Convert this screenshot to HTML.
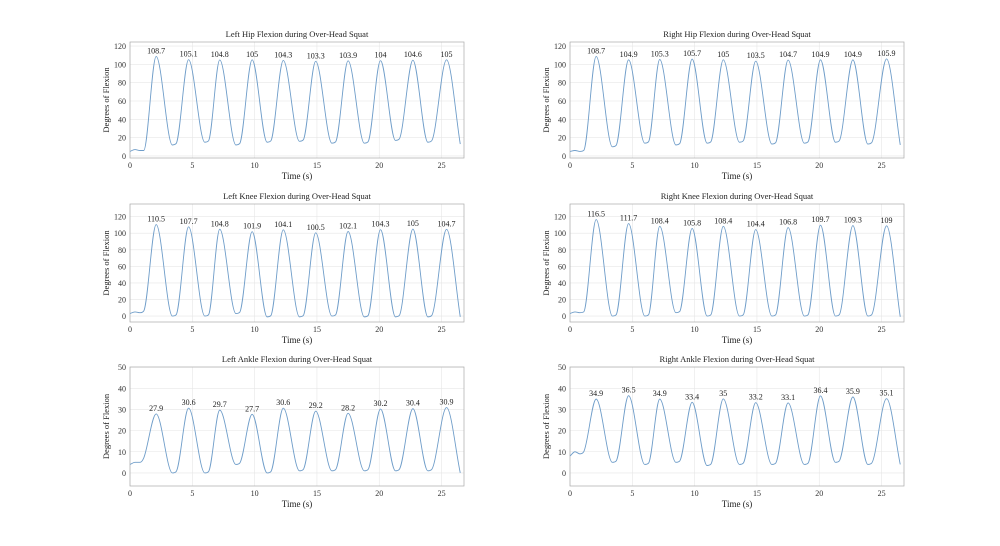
<!DOCTYPE html>
<html><head><meta charset="utf-8">
<style>
body{margin:0;background:#fff;}
svg{display:block;font-family:"Liberation Serif","DejaVu Serif",serif;}
</style></head>
<body>
<svg id="fig" width="1000" height="546" viewBox="0 0 1000 546"></svg>
<script>
// ---- shared time keypoints (s) ----
const peakT = [2.1,4.7,7.2,9.8,12.3,14.9,17.5,20.1,22.7,25.4];
const troughStartT = [3.4,6.0,8.5,11.0,13.6,16.2,18.8,21.3,23.9];
const troughEndT = [3.7,6.3,8.8,11.3,13.9,16.5,19.1,21.6,24.2];
const startT = [0,0.4,0.8,1.1];
const endT = 26.5;
const xTicks = [0,5,10,15,20,25];

// ---- Left hip ----
const lhipStart = [5,7,6,6];
const lhipPeaks = [108.7,105.1,104.8,105,104.3,103.3,103.9,104,104.6,105];
const lhipTroughs = [12,15,12,15,16,14,14,17,15];
const lhipEnd = 13;
// ---- Right hip ----
const rhipStart = [5,6,5,6];
const rhipPeaks = [108.7,104.9,105.3,105.7,105,103.5,104.7,104.9,104.9,105.9];
const rhipTroughs = [10,14,12,14,15,13,14,15,13];
const rhipEnd = 12;
// ---- Left knee ----
const lkneeStart = [3,5,4,6];
const lkneePeaks = [110.5,107.7,104.8,101.9,104.1,100.5,102.1,104.3,105,104.7];
const lkneeTroughs = [0,0,3,-1,-1,0,-1,-1,-1];
const lkneeEnd = -1;
// ---- Right knee ----
const rkneeStart = [3,5,4,5];
const rkneePeaks = [116.5,111.7,108.4,105.8,108.4,104.4,106.8,109.7,109.3,109];
const rkneeTroughs = [0,0,4,0,0,0,0,0,0];
const rkneeEnd = -1;
// ---- Left ankle ----
const lankStart = [4,5,5,7];
const lankPeaks = [27.9,30.6,29.7,27.7,30.6,29.2,28.2,30.2,30.4,30.9];
const lankTroughs = [0,0,4,0,1,1,1,1,1];
const lankEnd = 0;
// ---- Right ankle ----
const rankStart = [8,10,9,10];
const rankPeaks = [34.9,36.5,34.9,33.4,35,33.2,33.1,36.4,35.9,35.1];
const rankTroughs = [5,4,5,3.5,4,4,4,5,4];
const rankEnd = 4;

const kneeHipTicks = [0,20,40,60,80,100,120];
const ankleTicks = [0,10,20,30,40,50];

const NS = "http://www.w3.org/2000/svg";
const svg = document.getElementById('fig');
function mk(tag, attrs, parent){const e=document.createElementNS(NS,tag);for(const k in attrs)e.setAttribute(k,attrs[k]);(parent||svg).appendChild(e);return e;}

const panels = [
 {name:'left-hip',title:'Left Hip Flexion during Over-Head Squat',x0:130,x1:464,y0:42,y1:158,ymin:-2.2,ymax:124.4,yt:kneeHipTicks,st:lhipStart,pk:lhipPeaks,tr:lhipTroughs,en:lhipEnd},
 {name:'right-hip',title:'Right Hip Flexion during Over-Head Squat',x0:570,x1:904,y0:42,y1:158,ymin:-2.2,ymax:124.4,yt:kneeHipTicks,st:rhipStart,pk:rhipPeaks,tr:rhipTroughs,en:rhipEnd},
 {name:'left-knee',title:'Left Knee Flexion during Over-Head Squat',x0:130,x1:464,y0:204,y1:322,ymin:-7.2,ymax:135.3,yt:kneeHipTicks,st:lkneeStart,pk:lkneePeaks,tr:lkneeTroughs,en:lkneeEnd},
 {name:'right-knee',title:'Right Knee Flexion during Over-Head Squat',x0:570,x1:904,y0:204,y1:322,ymin:-7.2,ymax:135.3,yt:kneeHipTicks,st:rkneeStart,pk:rkneePeaks,tr:rkneeTroughs,en:rkneeEnd},
 {name:'left-ankle',title:'Left Ankle Flexion during Over-Head Squat',x0:130,x1:464,y0:367,y1:486,ymin:-6.2,ymax:50.1,yt:ankleTicks,st:lankStart,pk:lankPeaks,tr:lankTroughs,en:lankEnd},
 {name:'right-ankle',title:'Right Ankle Flexion during Over-Head Squat',x0:570,x1:904,y0:367,y1:486,ymin:-6.2,ymax:50.1,yt:ankleTicks,st:rankStart,pk:rankPeaks,tr:rankTroughs,en:rankEnd},
];
const XMAX = 26.8;

function monotone(pts){
  const n=pts.length, d=[], m=[];
  for(let i=0;i<n-1;i++) d.push((pts[i+1][1]-pts[i][1])/(pts[i+1][0]-pts[i][0]));
  m.push(d[0]);
  for(let i=1;i<n-1;i++){ m.push(d[i-1]*d[i]<=0?0:(d[i-1]+d[i])/2); }
  m.push(d[n-2]);
  for(let i=0;i<n-1;i++){ if(d[i]===0){m[i]=0;m[i+1]=0;continue;} const a=m[i]/d[i],b=m[i+1]/d[i],s=a*a+b*b; if(s>9){const t=3/Math.sqrt(s);m[i]=t*a*d[i];m[i+1]=t*b*d[i];} }
  let p='M'+pts[0][0].toFixed(2)+','+pts[0][1].toFixed(2);
  for(let i=0;i<n-1;i++){const h=(pts[i+1][0]-pts[i][0])/3;
    p+=' C'+(pts[i][0]+h).toFixed(2)+','+(pts[i][1]+m[i]*h).toFixed(2)+' '+(pts[i+1][0]-h).toFixed(2)+','+(pts[i+1][1]-m[i+1]*h).toFixed(2)+' '+pts[i+1][0].toFixed(2)+','+pts[i+1][1].toFixed(2);}
  return p;
}

panels.forEach(P=>{
  const g=mk('g',{});
  
  
  const X=t=>P.x0+(t/XMAX)*(P.x1-P.x0);
  const Y=v=>P.y1-(v-P.ymin)/(P.ymax-P.ymin)*(P.y1-P.y0);
  mk('rect',{x:P.x0,y:P.y0,width:P.x1-P.x0,height:P.y1-P.y0,fill:'#fff'},g);
  // grid
  xTicks.forEach(t=>{
    const l=mk('line',{x1:X(t),x2:X(t),y1:P.y0,y2:P.y1,stroke:'#e6e6e6','stroke-width':0.6},g);
    
    
    const tx=mk('text',{x:X(t),y:P.y1+10,'font-size':8,'text-anchor':'middle',fill:'#333'},g);
    tx.textContent=t;
    
    
  });
  P.yt.forEach(v=>{
    const l=mk('line',{x1:P.x0,x2:P.x1,y1:Y(v),y2:Y(v),stroke:'#e6e6e6','stroke-width':0.6},g);
    
    
    const tx=mk('text',{x:P.x0-4,y:Y(v)+3,'font-size':8,'text-anchor':'end',fill:'#333'},g);
    tx.textContent=v;
    
    
  });
  const fr=mk('rect',{x:P.x0,y:P.y0,width:P.x1-P.x0,height:P.y1-P.y0,fill:'none',stroke:'#aaa','stroke-width':0.7},g);
  
  
  // keypoints
  const pts=[];
  startT.forEach((t,i)=>pts.push([t,P.st[i]]));
  P.pk.forEach((v,i)=>{
    pts.push([peakT[i],v]);
    if(i<troughStartT.length){pts.push([troughStartT[i],P.tr[i]]);pts.push([troughEndT[i],P.tr[i]+1.5*(P.ymax>60?1:0.4)]);}
  });
  pts.push([endT,P.en]);
  const path=mk('path',{d:monotone(pts.map(p=>[X(p[0]),Y(p[1])])),fill:'none',stroke:'#6f9dc9','stroke-width':0.9},g);
  
  
  P.pk.forEach((v,i)=>{
    const tx=mk('text',{x:X(peakT[i]),y:Y(v)-3,'font-size':8,'text-anchor':'middle',fill:'#222'},g);
    tx.textContent=v;
    
    
  });
  const ti=mk('text',{x:(P.x0+P.x1)/2,y:P.y0-5,'font-size':8.5,'text-anchor':'middle',fill:'#222'},g);
  ti.textContent=P.title;
  
  
  const xl=mk('text',{x:(P.x0+P.x1)/2,y:P.y1+21,'font-size':9,'text-anchor':'middle',fill:'#222'},g);
  xl.textContent='Time (s)';
  
  
  const cy=(P.y0+P.y1)/2, cx=P.x0-21;
  const yl=mk('text',{x:cx,y:cy,'font-size':8.5,'text-anchor':'middle',fill:'#222',transform:'rotate(-90 '+cx+' '+cy+')'},g);
  yl.textContent='Degrees of Flexion';
  
  
});
</script>
</body></html>
